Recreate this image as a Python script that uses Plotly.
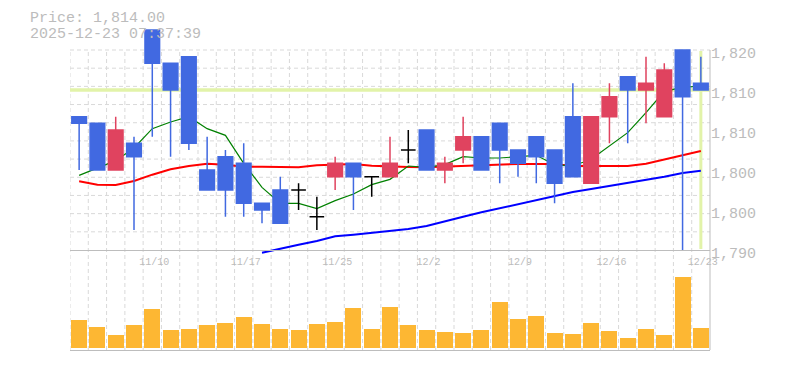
import plotly.graph_objects as go

# ---------------- data ----------------
dates = ["11/4", "11/5", "11/6", "11/7", "11/10", "11/11", "11/12", "11/13", "11/14",
         "11/17", "11/18", "11/19", "11/20", "11/21", "11/25", "11/26", "11/27", "11/28",
         "12/1", "12/2", "12/3", "12/4", "12/5", "12/8", "12/9", "12/10", "12/11", "12/12",
         "12/15", "12/16", "12/17", "12/18", "12/19", "12/22", "12/23"]
opens = [1810, 1809, 1802, 1806, 1823, 1818, 1819, 1802, 1804, 1803, 1797, 1799, 1799, 1795,
         1801, 1803, 1801, 1801, 1805, 1808, 1802, 1805, 1807, 1809, 1805, 1807, 1805, 1810,
         1800, 1810, 1816, 1814, 1810, 1820, 1815]
highs = [1810, 1809, 1810, 1807, 1823, 1818, 1819, 1807, 1805, 1806, 1797, 1801, 1800, 1798,
         1804, 1803, 1801, 1807, 1808, 1808, 1804, 1810, 1807, 1809, 1805, 1807, 1805, 1815,
         1810, 1815, 1816, 1819, 1818, 1820, 1819]
lows = [1802, 1802, 1802, 1793, 1807, 1804, 1805, 1799, 1795, 1795, 1794, 1794, 1796, 1793,
        1799, 1796, 1798, 1801, 1803, 1802, 1800, 1803, 1802, 1800, 1801, 1800, 1797, 1801,
        1800, 1806, 1806, 1809, 1810, 1790, 1814]
closes = [1809, 1802, 1808, 1804, 1818, 1814, 1806, 1799, 1799, 1797, 1796, 1794, 1799, 1795,
          1803, 1801, 1801, 1803, 1805, 1802, 1803, 1807, 1802, 1805, 1803, 1804, 1800, 1801,
          1810, 1813, 1814, 1815, 1817, 1813, 1814]
volumes = [2800, 2100, 1300, 2300, 3900, 1800, 1900, 2300, 2500, 3100, 2400, 1900, 1800, 2400,
           2600, 4000, 1900, 4100, 2300, 1800, 1600, 1500, 1800, 4600, 2900, 3200, 1500, 1400,
           2500, 1700, 1000, 1900, 1300, 7100, 2000]
ma_short = [1801.2, 1802.3, 1803.4, 1805.3, 1808.2, 1809.2, 1810.0, 1808.2, 1807.2, 1803.0,
            1799.4, 1797.0, 1797.0, 1796.2, 1797.4, 1798.4, 1799.8, 1800.6, 1802.6, 1802.4,
            1802.8, 1804.0, 1803.8, 1803.8, 1804.0, 1804.2, 1802.8, 1802.6, 1803.6, 1805.6,
            1807.6, 1810.6, 1813.8, 1814.4, 1814.6]
ma_mid = [1800.3, 1799.8, 1799.75, 1800.35, 1801.3, 1802.1, 1802.6, 1802.95, 1802.8, 1802.5,
          1802.5, 1802.5, 1802.4, 1802.7, 1802.85, 1802.9, 1802.65, 1802.5, 1802.45, 1802.4,
          1802.5, 1802.65, 1802.75, 1802.9, 1802.9, 1802.9, 1802.9, 1802.6, 1802.6, 1802.6,
          1802.6, 1802.95, 1803.55, 1804.25, 1804.85]
ma_long = [None] * 10 + [1789.6, 1790.25, 1790.8, 1791.35, 1792.05, 1792.3, 1792.6, 1792.9,
                         1793.15, 1793.6, 1794.35, 1795.0, 1795.65, 1796.25, 1796.9, 1797.5,
                         1798.0, 1798.7, 1799.15, 1799.6, 1800.05, 1800.5, 1801.0, 1801.55,
                         1801.9]
current_price = 1814
timestamp = "2025-12-23 07:37:39"
label_dates = ["11/10", "11/17", "11/25", "12/2", "12/9", "12/16", "12/23"]
price_tickvals = [1790, 1796, 1802, 1808, 1814, 1820]
price_ticktext = ["1,790", "1,800", "1,800", "1,810", "1,810", "1,820"]

# ---------------- styling ----------------
BLUE = "#4169e1"
RED = "#e0435f"
VOL = "#fdb733"
PALE = "#e2f3a9"
GRID = "#d9d9d9"
BORDER = "#bdbdbd"
TXT = "#bcbcbc"
MONO = "Liberation Mono"
PRICE_RANGE = [1789.25, 1824.5]

n = len(dates)
x = list(range(n))

up_idx = [i for i in x if closes[i] > opens[i]]
dn_idx = [i for i in x if closes[i] < opens[i]]
dj_idx = [i for i in x if closes[i] == opens[i]]


def candle(idx, color, name):
    return go.Candlestick(
        x=[x[i] for i in idx], open=[opens[i] for i in idx], high=[highs[i] for i in idx],
        low=[lows[i] for i in idx], close=[closes[i] for i in idx], name=name,
        increasing=dict(line=dict(color=color, width=1.5), fillcolor=color),
        decreasing=dict(line=dict(color=color, width=1.5), fillcolor=color),
        whiskerwidth=0, showlegend=False, xaxis="x", yaxis="y3")


fig = go.Figure()
fig.add_trace(go.Scatter(x=x, y=ma_long, mode="lines", line=dict(color="#0000ff", width=2),
                         showlegend=False, xaxis="x", yaxis="y"))
fig.add_trace(go.Scatter(x=x, y=ma_mid, mode="lines", line=dict(color="#ff0000", width=2),
                         showlegend=False, xaxis="x", yaxis="y"))
fig.add_trace(go.Scatter(x=x, y=ma_short, mode="lines", line=dict(color="#008000", width=1.2),
                         showlegend=False, xaxis="x", yaxis="y"))
fig.add_trace(candle(up_idx, RED, "up"))
fig.add_trace(candle(dn_idx, BLUE, "down"))
fig.add_trace(candle(dj_idx, "#000000", "doji"))
fig.add_trace(go.Bar(x=x, y=volumes, width=0.875, marker=dict(color=VOL, line=dict(width=0)),
                     showlegend=False, xaxis="x2", yaxis="y2"))

# plot area: x 70..710 px, y 20..350 px
H_PLOT = 330.0
def py(px):
    return (350.0 - px) / H_PLOT

DASH = "4px,3px"
shapes = []
# horizontal grid in price panel (11 intervals)
for k in range(11):
    yv = price_tickvals[-1] - k * (price_tickvals[-1] - price_tickvals[0]) / 11.0
    shapes.append(dict(type="line", xref="paper", yref="y", x0=0, x1=1, y0=yv, y1=yv,
                       line=dict(color=GRID, width=1, dash=DASH), layer="below"))
# vertical grid at slot boundaries
for k in range(n):
    shapes.append(dict(type="line", xref="x", yref="paper", x0=k - 0.5, x1=k - 0.5,
                       y0=0, y1=py(50), line=dict(color=GRID, width=1, dash=DASH),
                       layer="below"))
# current price line and current date line
shapes.append(dict(type="line", xref="paper", yref="y", x0=0, x1=1, y0=current_price,
                   y1=current_price, line=dict(color=PALE, width=3.5), layer="below"))
shapes.append(dict(type="line", xref="x", yref="paper", x0=x[-1], x1=x[-1], y0=py(249),
                   y1=py(51), line=dict(color=PALE, width=3), layer="below"))
# right border
shapes.append(dict(type="line", xref="paper", yref="paper", x0=1, x1=1, y0=0, y1=py(50),
                   line=dict(color=BORDER, width=1)))

fig.update_layout(
    width=785, height=370,
    margin=dict(l=70, r=75, t=20, b=20),
    paper_bgcolor="white", plot_bgcolor="rgba(0,0,0,0)",
    boxgap=0.2, boxgroupgap=0, bargap=0,
    shapes=shapes,
    xaxis=dict(range=[-0.5, n - 0.5], anchor="free", position=py(250),
               showgrid=False, zeroline=False, showline=True, linecolor=BORDER, linewidth=1,
               tickvals=[dates.index(d) for d in label_dates], ticktext=label_dates,
               ticks="outside", ticklen=2, tickcolor="rgba(0,0,0,0)", ticklabelshift=2,
               tickfont=dict(family=MONO, size=10, color=TXT),
               rangeslider=dict(visible=False), fixedrange=True),
    xaxis2=dict(range=[-0.5, n - 0.5], anchor="y2", matches="x", showgrid=False,
                zeroline=False, showline=True, linecolor=BORDER, linewidth=1,
                showticklabels=False, ticks=""),
    yaxis=dict(domain=[py(255), 1], range=PRICE_RANGE, side="right", anchor="x",
               tickvals=price_tickvals, ticktext=price_ticktext, showgrid=False,
               zeroline=False, showline=False, ticks="",
               ticklabelshift=3,
               tickfont=dict(family=MONO, size=15, color=TXT)),
    yaxis3=dict(range=PRICE_RANGE, overlaying="y", anchor="x", visible=False,
                showgrid=False, zeroline=False),
    yaxis2=dict(domain=[0, py(250)], range=[-200, 9800], anchor="x2", showgrid=False,
                zeroline=False, showline=False, showticklabels=False, ticks=""),
    annotations=[
        dict(text=f"Price: {current_price:,.2f}", xref="paper", yref="paper",
             x=(28 - 70) / 640.0, y=py(18.5), xanchor="left", yanchor="middle",
             showarrow=False, font=dict(family=MONO, size=15, color=TXT)),
        dict(text=timestamp, xref="paper", yref="paper",
             x=(28 - 70) / 640.0, y=py(34), xanchor="left", yanchor="middle",
             showarrow=False, font=dict(family=MONO, size=15, color=TXT)),
    ],
)

fig.write_html("out.html")
